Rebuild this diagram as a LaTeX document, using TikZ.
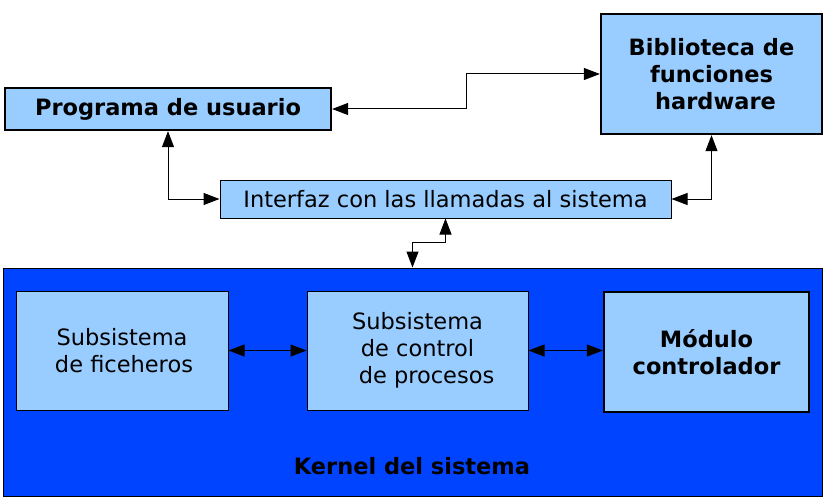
\documentclass[tikz,border=0pt]{standalone}
\usepackage{fontspec}
\setmainfont{DejaVu Sans}
\usetikzlibrary{arrows.meta,positioning}
\definecolor{cajaazul}{RGB}{153,204,255}
\definecolor{kernelazul}{RGB}{0,68,255}

\begin{document}
\begin{tikzpicture}[x=1pt,y=-1pt,
		caja/.style={draw,fill=cajaazul,line width=1pt,inner sep=0pt,align=center,
			font=\fontsize{22.5}{27}\selectfont},
		cajagruesa/.style={caja,line width=2.3pt,font=\fontsize{22.5}{27}\selectfont\bfseries},
		flecha/.style={line width=1pt,{Triangle[length=16pt,width=12pt]}-{Triangle[length=16pt,width=12pt]}}]

		\useasboundingbox (0,0) rectangle (831,503);

		\node [draw,fill=kernelazul,line width=1pt,minimum width=819pt,minimum height=228pt] (kernel) at (412.5,382) {};
		\node [font=\fontsize{22.5}{27}\selectfont\bfseries] (kernellbl) at (412,466) {Kernel del sistema};

		\node [cajagruesa,minimum width=326pt,minimum height=42pt] (prog) at (168,109) {Programa de usuario};
		\node [cajagruesa,minimum width=221pt,minimum height=120pt] (bib) at (711.5,74)
			{Biblioteca de\\funciones\\\hspace*{8pt}hardware};
		\node [caja,minimum width=451pt,minimum height=38pt] (interfaz) at (445.5,199)
			{Interfaz con las llamadas al sistema};

		\node [caja,minimum width=212pt,minimum height=119pt] (fich) at (122,350.5)
			{Subsistema\\\hspace*{4pt}de ficeheros};
		\node [caja,minimum width=221pt,minimum height=119pt] (ctrl) at (417.5,350.5)
			{Subsistema\\de control\\\hspace*{18pt}de procesos};
		\node [cajagruesa,minimum width=205pt,minimum height=120pt] (modulo) at (706.5,352)
			{Módulo\\controlador};

		\draw [flecha] (prog.east) -- ++(134,0) |- (bib.west);
		\draw [flecha] (prog.south) |- (interfaz.west);
		\draw [flecha] (interfaz.east) -| (bib.south);
		\draw [flecha] (interfaz.south) -- ++(0,24) -| (kernel.north);
		\draw [flecha] (fich.east) -- (ctrl.west);
		\draw [flecha] (ctrl.east) -- (ctrl.east -| modulo.west);

\end{tikzpicture}
\end{document}
